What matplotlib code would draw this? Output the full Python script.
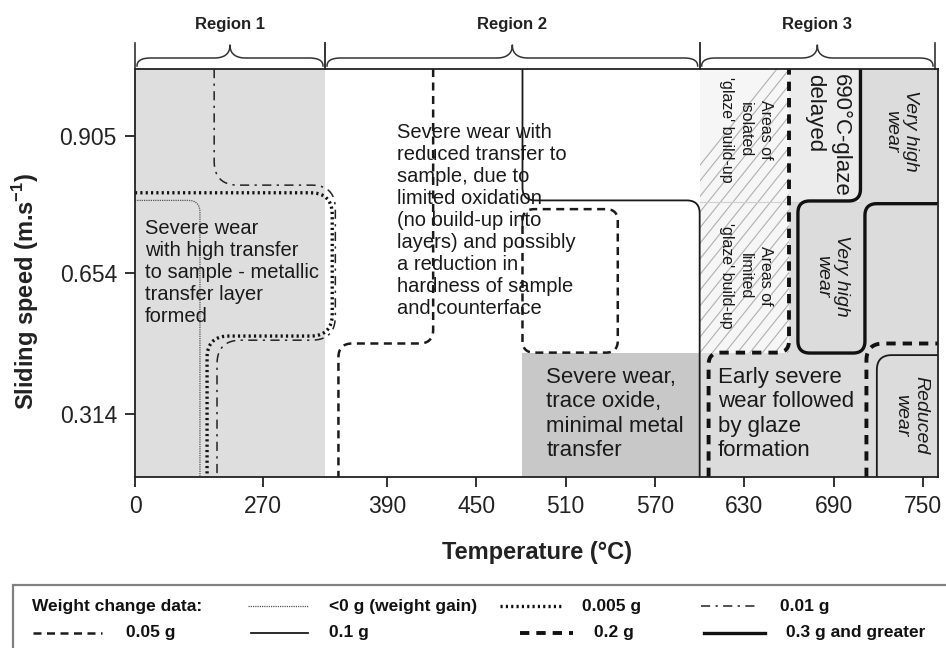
import numpy as np
import matplotlib
matplotlib.use("Agg")
import matplotlib.pyplot as plt
from matplotlib.patches import Rectangle

plt.rcParams['font.family'] = ['Liberation Sans', 'DejaVu Sans']
plt.rcParams['mathtext.fontset'] = 'custom'
plt.rcParams['mathtext.bf'] = 'Liberation Sans:bold'
plt.rcParams['mathtext.rm'] = 'Liberation Sans'

# Test conditions
temps = [0, 270, 390, 450, 510, 570, 630, 690, 750]
speeds = [0.314, 0.654, 0.905]

# Axes are stretched unevenly: knots map degC and m/s to axis position
temp_knots = [0, 270, 390, 750, 760]
temp_axis = [0, 128, 252, 788, 803]
speed_knots = [0.16, 0.314, 0.654, 0.905, 1.03]
speed_axis = [0, 63, 204, 341, 408]
V_LO, V_HI = speed_knots[0], speed_knots[-1]
T_HI = temp_knots[-1]

region_names = ['Region 1', 'Region 2', 'Region 3']
region_edges = [0, 330, 600, 758]

# Weight-change contours as corner points (degC, m/s)
gain_T = [0, 137, 137]
gain_v = [0.787, 0.787, V_LO]
wc005_T = [0, 337, 337, 152, 152]
wc005_v = [0.801, 0.801, 0.502, 0.502, V_LO]
wc01_T = [167, 167, 340, 340, 173, 173]
wc01_v = [V_HI, 0.815, 0.815, 0.492, 0.492, V_LO]
wc05a_T = [421, 421, 343, 343]
wc05a_v = [V_HI, 0.484, 0.484, V_LO]
wc05b_T = [513, 545, 545, 481, 481, 513]
wc05b_v = [0.771, 0.771, 0.462, 0.462, 0.771, 0.771]
wc1a_T = [481, 481, 600, 600]
wc1a_v = [V_HI, 0.787, 0.787, V_LO]
wc1b_T = [719, 719, T_HI]
wc1b_v = [V_LO, 0.456, 0.456]
wc2a_T = [606, 606, 660, 660]
wc2a_v = [V_LO, 0.462, 0.462, V_HI]
wc2b_T = [712, 712, T_HI]
wc2b_v = [V_LO, 0.484, 0.484]
wc3_T = [708, 708, 666, 666, 711, 711, T_HI]
wc3_v = [V_HI, 0.786, 0.786, 0.461, 0.461, 0.781, 0.781]

styles = {
    '<0 g (weight gain)': dict(lw=0.9, ls=(0, (1, 0.8)), color='#555555'),
    '0.005 g': dict(lw=2.4, ls=(0, (0.65, 0.95)), color='#111111'),
    '0.01 g': dict(lw=1.1, ls=(0, (6, 3.5, 1.5, 3.5)), color='#222222'),
    '0.05 g': dict(lw=1.8, ls=(0, (3.2, 2.2)), color='#1a1a1a'),
    '0.1 g': dict(lw=1.3, ls='-', color='#1a1a1a'),
    '0.2 g': dict(lw=2.8, ls=(0, (2.4, 1.8)), color='#111111'),
    '0.3 g and greater': dict(lw=2.4, ls='-', color='#111111'),
}

contours = [
    (gain_T, gain_v, '<0 g (weight gain)', 12),
    (wc005_T, wc005_v, '0.005 g', 22),
    (wc01_T, wc01_v, '0.01 g', 24),
    (wc05a_T, wc05a_v, '0.05 g', 14),
    (wc05b_T, wc05b_v, '0.05 g', 12),
    (wc1a_T, wc1a_v, '0.1 g', 13),
    (wc1b_T, wc1b_v, '0.1 g', 15),
    (wc2a_T, wc2a_v, '0.2 g', 12),
    (wc2b_T, wc2b_v, '0.2 g', 17),
    (wc3_T, wc3_v, '0.3 g and greater', 12),
]


def xp(t):
    return np.interp(t, temp_knots, temp_axis)


def yp(v):
    return np.interp(v, speed_knots, speed_axis)


def rounded(xs, ys, r, n=14):
    """Polyline with its corners replaced by quadratic curves of size r."""
    pts = np.column_stack([xs, ys]).astype(float)
    out = [pts[0]]
    t = np.linspace(0, 1, n)[:, None]
    for i in range(1, len(pts) - 1):
        p0, p1, p2 = pts[i - 1], pts[i], pts[i + 1]
        d1, d2 = p0 - p1, p2 - p1
        l1, l2 = np.hypot(*d1), np.hypot(*d2)
        rr = min(r, l1 / 2, l2 / 2)
        a = p1 + d1 / l1 * rr
        b = p1 + d2 / l2 * rr
        out.extend((1 - t) ** 2 * a + 2 * (1 - t) * t * p1 + t ** 2 * b)
    out.append(pts[-1])
    out = np.array(out)
    return out[:, 0], out[:, 1]


def brace(ax, x0, x1, base):
    xm = (x0 + x1) / 2
    flat, tip = base + 11, base + 24
    t = np.linspace(0, 1, 20)
    qx = lambda a, c, b: (1 - t) ** 2 * a + 2 * (1 - t) * t * c + t ** 2 * b
    lx = np.concatenate([qx(x0 + 2, x0 + 2, x0 + 16), qx(xm - 16, xm, xm)])
    ly = np.concatenate([qx(base + 3, flat, flat), qx(flat, flat, tip)])
    rx = np.concatenate([qx(xm, xm, xm + 16), qx(x1 - 16, x1 - 2, x1 - 2)])
    ry = np.concatenate([qx(tip, flat, flat), qx(flat, flat, base + 3)])
    ax.plot(np.r_[lx, rx], np.r_[ly, ry], color='#333333', lw=1.1, clip_on=False)
    for xe in (x0, x1):
        ax.plot([xe, xe], [base, base + 26], color='#333333', lw=1.2, clip_on=False)


fig = plt.figure(figsize=(9.46, 6.48), dpi=100)
ax = fig.add_axes([135 / 946, 171 / 648, 803 / 946, 408 / 648])
ax.set_xlim(xp(0), xp(T_HI))
ax.set_ylim(yp(V_LO), yp(V_HI))
top = yp(V_HI)

# Background shading
ax.axvspan(xp(0), xp(330), color='#dedede', lw=0, zorder=0)
ax.axvspan(xp(600), xp(T_HI), color='#dcdcdc', lw=0, zorder=0)
ax.fill_between([xp(481), xp(600)], yp(V_LO), yp(0.461), color='#c8c8c8', lw=0, zorder=0)
glaze_box = Rectangle((xp(600), yp(0.461)), xp(660) - xp(600), top - yp(0.461),
                      facecolor='#f6f6f6', lw=0, zorder=0.5)
ax.add_patch(glaze_box)
# diagonal hatching of the patchy-glaze band
hx0 = xp(600)
for k in range(-12, 12):
    x0 = hx0 + k * 12.5
    ln, = ax.plot([x0, x0 + 400], [yp(0.461), yp(0.461) + 400 * 1.25],
                  color='#b0b0b0', lw=0.8, zorder=0.55)
    ln.set_clip_path(glaze_box)
ax.add_patch(Rectangle((xp(660), yp(0.784)), xp(708) - xp(660), top - yp(0.784),
                       facecolor='#ececec', lw=0, zorder=0.5))
ax.plot([xp(600), xp(708)], [yp(0.784)] * 2, color='#d0d0d0', lw=0.8, zorder=0.6)

for xs, vs, key, r in contours:
    cx, cy = rounded(xp(xs), yp(vs), r)
    ax.plot(cx, cy, zorder=2, **styles[key])

# Regime descriptions
txt = dict(color='#1a1a1a', zorder=3)
ax.text(xp(21), yp(0.654), 'Severe wear\nwith high transfer\nto sample - metallic\n'
        'transfer layer\nformed', fontsize=14.5, ha='left', va='center', linespacing=1.2, **txt)
ax.text(xp(397), yp(0.751), 'Severe wear with\nreduced transfer to\nsample, due to\n'
        'limited oxidation\n(no build-up into\nlayers) and possibly\na reduction in\n'
        'hardness of sample\nand counterface', fontsize=14.5, ha='left', va='center',
        linespacing=1.2, **txt)
ax.text(xp(497), yp(0.314), 'Severe wear,\ntrace oxide,\nminimal metal\ntransfer',
        fontsize=16, ha='left', va='center', linespacing=1.2, **txt)
ax.text(xp(612), yp(0.314), 'Early severe\nwear followed\nby glaze\nformation',
        fontsize=16, ha='left', va='center', linespacing=1.2, **txt)
ax.text(xp(631), yp(0.916), "Areas of\nisolated\n'glaze' build-up", fontsize=11.5,
        rotation=-90, ha='center', va='center', multialignment='center', linespacing=1.35, **txt)
ax.text(xp(631), yp(0.647), "Areas of\nlimited\n'glaze' build-up", fontsize=11.5,
        rotation=-90, ha='center', va='center', multialignment='center', linespacing=1.35, **txt)
ax.text(xp(686), yp(1.020), '690°C-glaze\ndelayed', fontsize=16, rotation=-90,
        ha='center', va='top', multialignment='left', linespacing=1.3, **txt)
ax.text(xp(735), yp(0.914), 'Very high\nwear', fontsize=14, style='italic', rotation=-90,
        ha='center', va='center', multialignment='center', linespacing=1.15, **txt)
ax.text(xp(689), yp(0.647), 'Very high\nwear', fontsize=14, style='italic', rotation=-90,
        ha='center', va='center', multialignment='center', linespacing=1.15, **txt)
ax.text(xp(742), yp(0.312), 'Reduced\nwear', fontsize=14, style='italic', rotation=-90,
        ha='center', va='center', multialignment='center', linespacing=1.15, **txt)

# Region braces
for name, a, b in zip(region_names, region_edges[:-1], region_edges[1:]):
    brace(ax, xp(a), xp(b), top)
    ax.text((xp(a) + xp(b)) / 2, top + 45, name, fontsize=12, fontweight='bold',
            ha='center', va='center', color='#222222')

# Axes
ax.set_xticks(xp(temps))
ax.set_xticklabels([str(t) for t in temps])
ax.set_yticks(yp(speeds))
ax.set_yticklabels([f'{s:.3f}' for s in speeds])
ax.tick_params(direction='out', length=7, width=1.3, labelsize=16.5, colors='#222222', pad=6)
for sp in ax.spines.values():
    sp.set_linewidth(1.3)
    sp.set_color('#222222')
    sp.set_zorder(4)
ax.set_xlabel('Temperature (°C)', fontsize=17, fontweight='bold', color='#222222', va='center')
ax.xaxis.set_label_coords(0.5, -0.186)
ax.set_ylabel(r'Sliding speed (m.s$^{\mathbf{-1}}$)', fontsize=17, fontweight='bold',
              color='#222222', va='center')
ax.yaxis.set_label_coords(-0.136, 0.456)

# Line key below the chart
key_title = 'Weight change data:'
key_rows = [['<0 g (weight gain)', '0.005 g', '0.01 g'],
            ['0.05 g', '0.1 g', '0.2 g', '0.3 g and greater']]
lax = fig.add_axes([0, 0, 1, 80 / 648])
lax.set_xlim(0, 946)
lax.set_ylim(80, 0)
lax.axis('off')
lax.add_patch(Rectangle((13, 17), 1000, 100, facecolor='white', edgecolor='#808080', lw=1.6))
row_y = [38, 65]
sample_x = [[(248, 308), (500, 561), (701, 759)],
            [(33, 102), (251, 308), (520, 573), (704, 765)]]
lax.text(32, row_y[0], key_title, fontsize=12.5, fontweight='bold', va='center',
         color='#111111')
for labels, spans, y in zip(key_rows, sample_x, row_y):
    for lab, (x0, x1) in zip(labels, spans):
        lax.plot([x0, x1], [y, y], **styles[lab])
        lax.text(x1 + 21 if x1 > 110 else x1 + 24, y, lab, fontsize=12.5, fontweight='bold',
                 va='center', color='#111111')

fig.savefig('out.png', dpi=100)
